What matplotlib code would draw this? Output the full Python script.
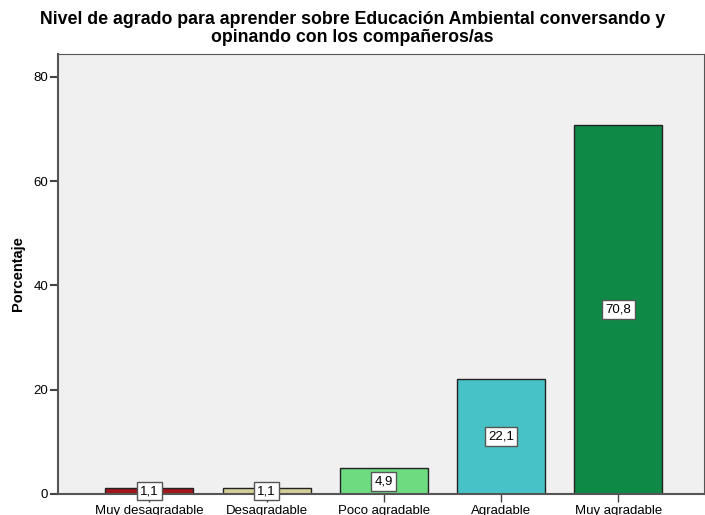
import matplotlib.pyplot as plt
import numpy as np

# Porcentajes por categoria
categorias = ['Muy desagradable', 'Desagradable', 'Poco agradable', 'Agradable', 'Muy agradable']
porcentajes = [1.1, 1.1, 4.9, 22.1, 70.8]
etiquetas = ['1,1', '1,1', '4,9', '22,1', '70,8']
colores = ['#a3171c', '#d4cf98', '#6fdb80', '#47c3c7', '#0e8a46']

plt.rcParams['font.family'] = ['Liberation Sans', 'DejaVu Sans']

fig = plt.figure(figsize=(7.05, 5.15), dpi=100)
ax = fig.add_axes([58 / 705, 21 / 515, 646 / 705, 440 / 515])
ax.set_facecolor('#f0f0f0')

x = np.arange(len(categorias))
ax.bar(x, porcentajes, width=0.75, color=colores, edgecolor='#222222', linewidth=1)

for xi, v, t in zip(x, porcentajes, etiquetas):
    ax.text(xi, v / 2, t, ha='center', va='center', fontsize=9.5,
            bbox=dict(boxstyle='square,pad=0.25', facecolor='white', edgecolor='#555555', linewidth=1))

ax.set_xlim(-0.78, 4.73)
ax.set_ylim(0, 84.4)
ax.set_yticks([0, 20, 40, 60, 80])
ax.set_xticks(x)
ax.set_xticklabels(categorias, fontsize=9.5)
ax.tick_params(axis='y', labelsize=9.5, length=6, width=1.5, color='#444444', pad=1)
ax.tick_params(axis='x', length=6, width=1, color='#444444', pad=2)
for s in ax.spines.values():
    s.set_color('#555555')
ax.spines['left'].set_linewidth(1.5)
ax.spines['bottom'].set_linewidth(1.5)

ax.set_ylabel('Porcentaje', fontsize=10.5, fontweight='bold', labelpad=6)
fig.suptitle('Nivel de agrado para aprender sobre Educación Ambiental conversando y\nopinando con los compañeros/as',
             fontsize=12.8, fontweight='bold', y=0.978, linespacing=1.05)

fig.savefig('out.png', dpi=100)
